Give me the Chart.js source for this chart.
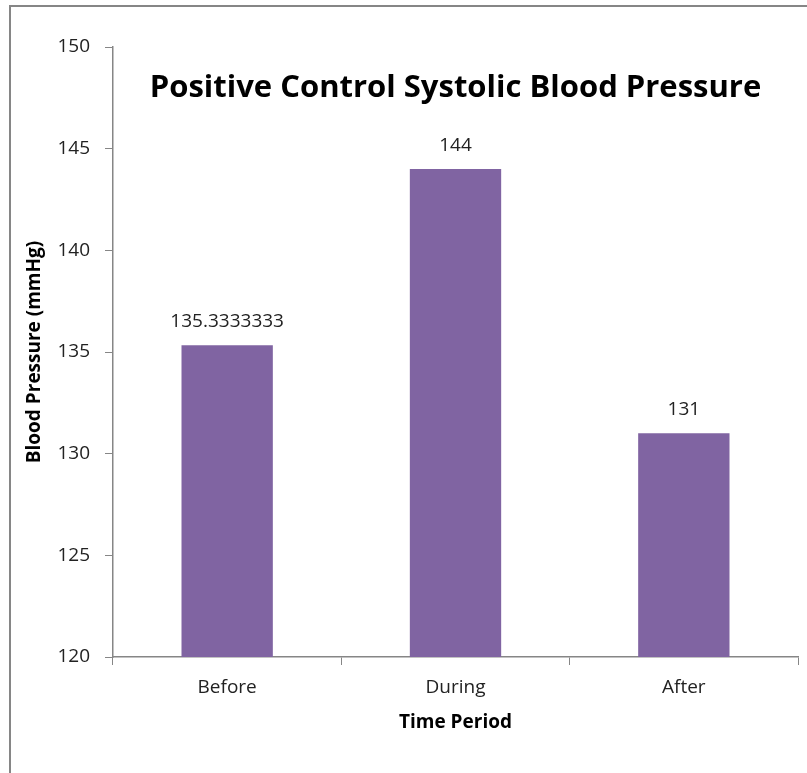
<!DOCTYPE html>
<html>
<head>
<meta charset="utf-8">
<script src="https://cdn.jsdelivr.net/npm/chart.js@4.4.1/dist/chart.umd.min.js"></script>
<style>
  html, body { margin: 0; padding: 0; background: #fff; }
  #wrap { width: 807px; height: 773px; position: relative; }
</style>
</head>
<body>
<div id="wrap"><canvas id="bpChart"></canvas></div>
<script>
// chart data
const periods = ['Before', 'During', 'After'];
const systolic = [135.3333333, 144, 131];
const yMin = 120, yMax = 150, yStep = 5;

const chartTitle = 'Positive Control Systolic Blood Pressure';
const xTitle = 'Time Period';
const yTitle = 'Blood Pressure (mmHg)';

const FONT = "'Open Sans', 'Noto Sans', sans-serif";
const AXIS_GRAY = '#868686';

// frame, title, axis titles and value labels
const excelLook = {
  id: 'excelLook',
  beforeDraw(chart) {
    const ctx = chart.ctx;
    ctx.save();
    ctx.fillStyle = '#fff';
    ctx.fillRect(0, 0, chart.width, chart.height);
    ctx.strokeStyle = AXIS_GRAY;
    ctx.lineWidth = 2;
    ctx.strokeRect(10, 6, chart.width + 20, chart.height + 20);
    ctx.restore();
  },
  afterDatasetsDraw(chart) {
    const ctx = chart.ctx;
    const area = chart.chartArea;
    const midX = (area.left + area.right) / 2;
    ctx.save();

    ctx.fillStyle = '#000';
    ctx.font = 'bold 31px ' + FONT;
    ctx.textAlign = 'center';
    ctx.textBaseline = 'middle';
    ctx.fillText(chartTitle, midX, area.top + 41);

    ctx.font = 'bold 19px ' + FONT;
    ctx.fillText(xTitle, midX, area.bottom + 66);

    ctx.save();
    ctx.translate(35, (area.top + area.bottom) / 2);
    ctx.rotate(-Math.PI / 2);
    ctx.fillText(yTitle, 0, 0);
    ctx.restore();

    ctx.fillStyle = '#222';
    ctx.font = '19px ' + FONT;
    ctx.textBaseline = 'alphabetic';
    const meta = chart.getDatasetMeta(0);
    meta.data.forEach((bar, i) => {
      ctx.fillText(String(systolic[i]), bar.x, bar.y - 18);
    });
    ctx.restore();
  }
};

new Chart(document.getElementById('bpChart').getContext('2d'), {
  type: 'bar',
  data: {
    labels: periods,
    datasets: [{
      data: systolic,
      backgroundColor: '#8064A2',
      barPercentage: 0.4,
      categoryPercentage: 1.0
    }]
  },
  options: {
    responsive: true,
    maintainAspectRatio: false,
    animation: false,
    layout: { padding: { left: 0, top: 47, right: 9, bottom: 0 } },
    plugins: {
      legend: { display: false },
      tooltip: { enabled: false }
    },
    scales: {
      x: {
        afterFit: s => { s.height = 116; },
        grid: {
          offset: true,
          drawOnChartArea: false,
          tickLength: 8,
          color: AXIS_GRAY
        },
        border: { color: AXIS_GRAY, width: 1.5 },
        ticks: {
          padding: 11,
          color: '#222',
          font: { family: FONT, size: 19 }
        }
      },
      y: {
        min: yMin,
        max: yMax,
        afterFit: s => { s.width = 113; },
        grid: {
          drawOnChartArea: false,
          tickLength: 8,
          color: AXIS_GRAY
        },
        border: { color: AXIS_GRAY, width: 1.5 },
        ticks: {
          stepSize: yStep,
          padding: 15,
          color: '#222',
          font: { family: FONT, size: 19 }
        }
      }
    }
  },
  plugins: [excelLook]
});
</script>
</body>
</html>
